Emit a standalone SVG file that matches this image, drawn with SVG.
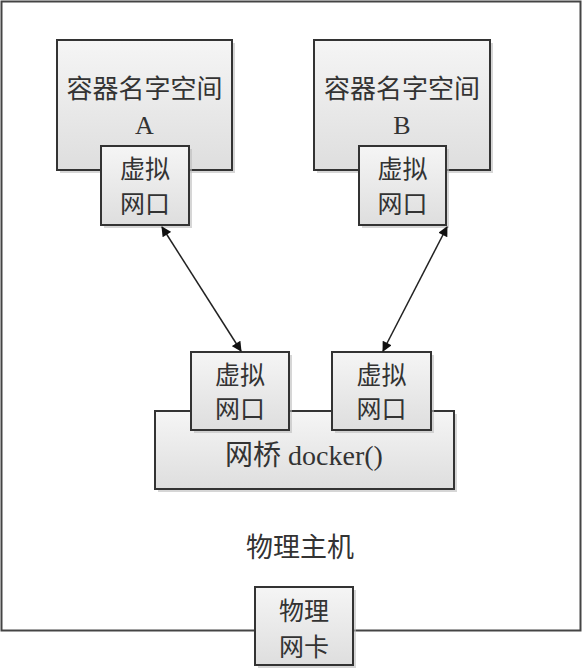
<svg xmlns="http://www.w3.org/2000/svg" width="582" height="670" viewBox="0 0 582 670">
<style>
.box{fill:url(#g);stroke:#333;stroke-width:2}
.sh{fill:#bbb;opacity:0.6}
.t{font-family:"Liberation Serif","Noto Sans CJK SC",serif;fill:#333;text-anchor:middle}
.c{stroke:#222;stroke-width:1.5;fill:none;marker-start:url(#ah);marker-end:url(#ah)}
</style>
<defs>
<linearGradient id="g" x1="0" y1="0" x2="0" y2="1">
<stop offset="0" stop-color="#f5f5f5"/>
<stop offset="1" stop-color="#dedede"/>
</linearGradient>
<marker id="ah" viewBox="0 0 10 10" refX="9" refY="5" markerWidth="11" markerHeight="10" markerUnits="userSpaceOnUse" orient="auto-start-reverse">
<path d="M0,0 L10,5 L0,10 z" fill="#111"/>
</marker>
</defs>
<rect width="582" height="670" fill="#fff"/>
<g id="host">
<rect x="1.5" y="1.5" width="579" height="629" fill="#fff" stroke="#444" stroke-width="2"/>
<text class="t" x="300" y="557" font-size="27">物理主机</text>
</g>
<g id="nsA">
<rect class="sh" x="60" y="43" width="175" height="130"/>
<rect class="box" x="57" y="40" width="175" height="130"/>
<text class="t" x="144.5" y="98" font-size="26">容器名字空间</text>
<text class="t" x="144.5" y="134" font-size="26">A</text>
</g>
<g id="vethA">
<rect class="sh" x="104" y="149" width="88" height="79"/>
<rect class="box" x="101" y="146" width="88" height="79"/>
<text class="t" x="145" y="178" font-size="25">虚拟</text>
<text class="t" x="145" y="213" font-size="25">网口</text>
</g>
<g id="nsB">
<rect class="sh" x="317" y="43" width="176" height="130"/>
<rect class="box" x="314" y="40" width="176" height="130"/>
<text class="t" x="402" y="98" font-size="26">容器名字空间</text>
<text class="t" x="402" y="134" font-size="26">B</text>
</g>
<g id="vethB">
<rect class="sh" x="362" y="149" width="87" height="79"/>
<rect class="box" x="359" y="146" width="87" height="79"/>
<text class="t" x="402.5" y="178" font-size="25">虚拟</text>
<text class="t" x="402.5" y="213" font-size="25">网口</text>
</g>
<g id="bridge">
<rect class="sh" x="158" y="414" width="299" height="78"/>
<rect class="box" x="155" y="411" width="299" height="78"/>
<text class="t" x="304" y="465" font-size="28">网桥 docker()</text>
</g>
<g id="bvethL">
<rect class="sh" x="194" y="355" width="98" height="78"/>
<rect class="box" x="191" y="352" width="98" height="78"/>
<text class="t" x="240" y="384" font-size="25">虚拟</text>
<text class="t" x="240" y="418" font-size="25">网口</text>
</g>
<g id="bvethR">
<rect class="sh" x="335" y="355" width="99" height="78"/>
<rect class="box" x="332" y="352" width="99" height="78"/>
<text class="t" x="381.5" y="384" font-size="25">虚拟</text>
<text class="t" x="381.5" y="418" font-size="25">网口</text>
</g>
<g id="nic">
<rect class="sh" x="258" y="590" width="98" height="78"/>
<rect class="box" x="255" y="587" width="98" height="78"/>
<text class="t" x="304" y="620" font-size="25">物理</text>
<text class="t" x="304" y="656" font-size="25">网卡</text>
</g>
<g id="connectors">
<line class="c" x1="162" y1="227" x2="241" y2="351"/>
<line class="c" x1="447" y1="227" x2="383" y2="351"/>
</g>
</svg>
